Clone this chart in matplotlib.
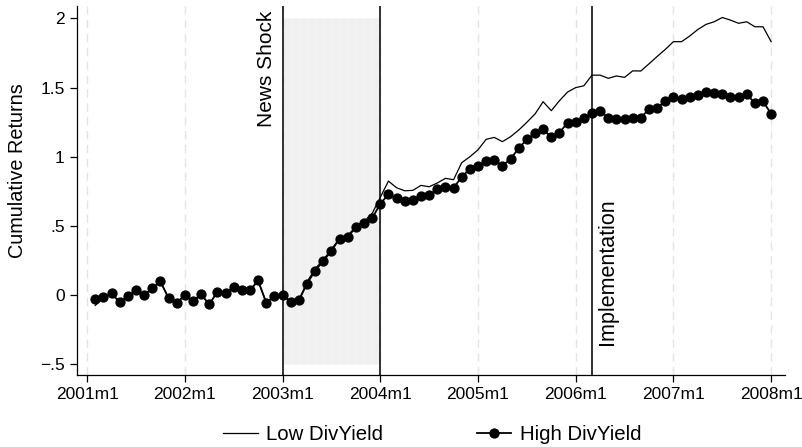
import numpy as np
import matplotlib
matplotlib.use("Agg")
import matplotlib.pyplot as plt

plt.rcParams['font.family'] = ['Liberation Sans', 'DejaVu Sans']

# months since 2001m1 (2001m2 .. 2008m1)
months = np.arange(1, 85)

low_div = [-0.075, -0.02, 0.01, -0.05, -0.01, 0.03, 0.0, 0.045, 0.095, -0.02,
           -0.055, -0.005, -0.04, 0.0, -0.065, 0.02, 0.015, 0.055, 0.035, 0.035,
           0.1, -0.055, -0.005, 0.0, -0.045, -0.04, 0.095, 0.19, 0.255, 0.33,
           0.41, 0.43, 0.495, 0.53, 0.59, 0.706, 0.824, 0.776, 0.754, 0.757,
           0.793, 0.783, 0.81, 0.844, 0.834, 0.957, 1.0, 1.05, 1.126, 1.14,
           1.109, 1.145, 1.193, 1.249, 1.309, 1.398, 1.333, 1.405, 1.468, 1.5,
           1.513, 1.59, 1.59, 1.567, 1.584, 1.574, 1.621, 1.62, 1.672, 1.725,
           1.776, 1.832, 1.832, 1.873, 1.92, 1.957, 1.976, 2.007, 1.988, 1.965,
           1.976, 1.94, 1.94, 1.832]

high_div = [-0.031, -0.017, 0.012, -0.053, -0.007, 0.034, 0.0, 0.048, 0.10, -0.022,
            -0.056, 0.0, -0.043, 0.005, -0.067, 0.024, 0.017, 0.058, 0.038, 0.034,
            0.106, -0.056, -0.005, 0.0, -0.048, -0.039, 0.082, 0.176, 0.246, 0.32,
            0.407, 0.42, 0.49, 0.518, 0.557, 0.658, 0.73, 0.70, 0.68, 0.687,
            0.716, 0.725, 0.764, 0.781, 0.776, 0.853, 0.913, 0.93, 0.971, 0.976,
            0.933, 0.986, 1.06, 1.126, 1.169, 1.198, 1.14, 1.174, 1.246, 1.253,
            1.277, 1.314, 1.333, 1.282, 1.273, 1.275, 1.28, 1.283, 1.344, 1.354,
            1.403, 1.433, 1.415, 1.43, 1.448, 1.468, 1.458, 1.453, 1.43, 1.435,
            1.453, 1.386, 1.40, 1.311]

year_ticks = [0, 12, 24, 36, 48, 60, 72, 84]
year_labels = ['2001m1', '2002m1', '2003m1', '2004m1', '2005m1', '2006m1', '2007m1', '2008m1']
y_ticks = [-0.5, 0, 0.5, 1, 1.5, 2]
y_labels = ['\u2212.5', '0', '.5', '1', '1.5', '2']

news_shock = 24       # 2003m1
shock_end = 36        # 2004m1
implementation = 62   # 2006m3

fig = plt.figure(figsize=(8.02, 4.47), dpi=100)
ax = fig.add_axes([77 / 802, 72 / 447, 708 / 802, 369 / 447])

ymin, ymax = -0.578, 2.09
ax.set_xlim(-1.24, 85.7)
ax.set_ylim(ymin, ymax)

# shaded window, one bar per month
shade_x = np.arange(news_shock, shock_end) + 0.5
ax.bar(shade_x, 2.5, width=1.0, bottom=-0.5, color='#f0f0f0',
       edgecolor='#f5f5f5', linewidth=0.5, zorder=0)

for t in year_ticks:
    ax.axvline(t, color='#e4e4e4', linestyle=(0, (6, 4)), linewidth=1.0, zorder=0.5)

for t in [news_shock, shock_end, implementation]:
    ax.axvline(t, color='#222222', linewidth=1.3, zorder=1)

ax.plot(months, low_div, color='black', linewidth=0.9, label='Low DivYield', zorder=2)
ax.plot(months, high_div, color='black', linewidth=1.3, marker='o', markersize=6.4,
        label='High DivYield', zorder=3)

ax.text(news_shock - 0.8, 2.06, 'News Shock', rotation=90, ha='right', va='top', fontsize=15)
ax.text(implementation + 0.6, -0.36, 'Implementation', rotation=90, ha='left', va='bottom', fontsize=15.5)

ax.set_xticks(year_ticks)
ax.set_xticklabels(year_labels)
ax.set_yticks(y_ticks)
ax.set_yticklabels(y_labels)
ax.tick_params(axis='both', direction='out', length=5, width=0.9, labelsize=12.5, colors='black')
ax.tick_params(axis='y', pad=4)
ax.set_ylabel('Cumulative Returns', fontsize=14.3)
ax.yaxis.set_label_coords(-0.071, 0.555)

for side in ['top', 'right']:
    ax.spines[side].set_visible(False)
for side in ['left', 'bottom']:
    ax.spines[side].set_linewidth(0.9)

fig.legend(loc='center', ncol=2, frameon=False, fontsize=14.7,
           bbox_to_anchor=(432 / 802, 1 - 435 / 447), handlelength=1.7,
           handletextpad=0.4, columnspacing=4.6)

fig.savefig('out.png', dpi=100)
